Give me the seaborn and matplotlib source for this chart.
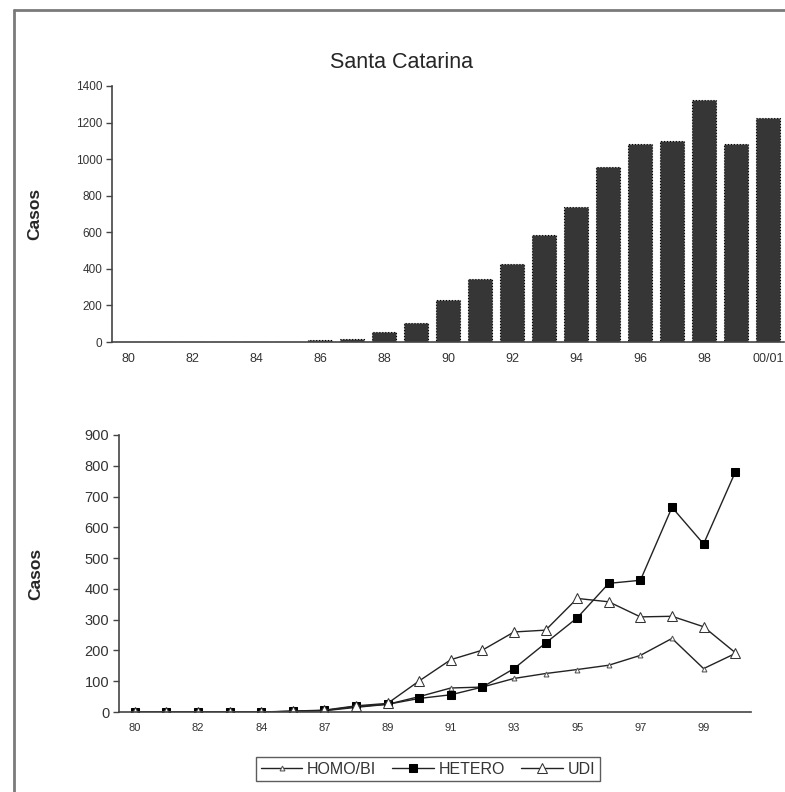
import matplotlib
matplotlib.use("Agg")
import matplotlib.pyplot as plt
from matplotlib.lines import Line2D
import seaborn as sns

# Annual AIDS cases, Santa Catarina
bar_years = ["80", "81", "82", "83", "84", "85", "86", "87", "88", "89", "90",
             "91", "92", "93", "94", "95", "96", "97", "98", "99", "00/01"]
bar_cases = [0, 0, 0, 0, 0, 0, 10, 18, 55, 106, 229,
             342, 429, 583, 736, 959, 1083, 1099, 1326, 1083, 1223]

# Cases by exposure category
line_years = ["80", "81", "82", "83", "84", "85", "87", "88", "89", "90",
              "91", "92", "93", "94", "95", "96", "97", "98", "99", "00"]
homo_bi = [0, 0, 0, 0, 0, 2, 4, 15, 25, 50,
           78, 81, 109, 125, 138, 152, 184, 239, 141, 190]
hetero = [0, 0, 0, 0, 0, 2, 5, 18, 25, 44,
          56, 81, 141, 224, 306, 418, 428, 665, 546, 779]
udi = [0, 0, 0, 0, 0, 3, 6, 20, 28, 101,
       170, 201, 260, 266, 369, 358, 309, 311, 277, 193]

sns.set_theme(style="white")
plt.rcParams["font.family"] = ["Liberation Sans", "DejaVu Sans"]
narrow = ["Liberation Sans Narrow", "Liberation Sans", "DejaVu Sans"]

fig = plt.figure(figsize=(7.85, 7.92), dpi=100)

# outer frame (left and top edges)
fig.add_artist(Line2D([14 / 785, 14 / 785], [0, 1 - 10 / 792],
                      transform=fig.transFigure, color="#7a7a7a", lw=2))
fig.add_artist(Line2D([14 / 785, 1], [1 - 10 / 792, 1 - 10 / 792],
                      transform=fig.transFigure, color="#7a7a7a", lw=2))

fig.text(402 / 785, 1 - 62 / 792, "Santa Catarina", ha="center", va="center",
         fontsize=15.5, family=narrow, fontweight="medium")

# ---- top: total cases per year ----
ax1 = fig.add_axes([112 / 785, 1 - 342 / 792, 672 / 785, 256 / 792])
sns.barplot(x=bar_years, y=bar_cases, color="#363636", width=0.72,
            edgecolor="black", linewidth=0.8, linestyle=":", saturation=1,
            ax=ax1)
ax1.set_xlim(-0.5, len(bar_years) - 0.5)
ax1.set_ylim(0, 1400)
ax1.set_yticks(range(0, 1401, 200))
ax1.set_yticklabels([str(v) for v in range(0, 1401, 200)], family=narrow,
                    fontsize=8.5, color="#333333")
ax1.set_xticks(range(0, len(bar_years), 2))
ax1.set_xticklabels(bar_years[::2], family=narrow, fontsize=9, color="#333333")
ax1.set_xticks([i - 0.5 for i in range(len(bar_years) + 1)], minor=True)
ax1.tick_params(axis="x", which="major", length=0, pad=8)
ax1.tick_params(axis="x", which="minor", length=4, width=1, color="#444444",
                direction="out")
ax1.tick_params(axis="y", length=4, width=1, color="#444444", direction="out",
                left=True, pad=3)
for s in ("top", "right"):
    ax1.spines[s].set_visible(False)
for s in ("left", "bottom"):
    ax1.spines[s].set_color("#444444")
    ax1.spines[s].set_linewidth(1.2)
ax1.set_ylabel("Casos", fontsize=12.5, fontweight="bold", labelpad=24)
ax1.set_xlabel("")

# ---- bottom: cases by exposure category ----
ax2 = fig.add_axes([119 / 785, 1 - 712 / 792, 632 / 785, 277 / 792])
sns.pointplot(x=line_years, y=homo_bi, color="#222222", marker="^",
              markersize=3.5, markerfacecolor="white", markeredgecolor="#555555",
              linewidth=1.0, errorbar=None, label="HOMO/BI", ax=ax2)
sns.pointplot(x=line_years, y=hetero, color="#222222", marker="s",
              markersize=5.5, markerfacecolor="black", markeredgecolor="black",
              linewidth=1.0, errorbar=None, label="HETERO", ax=ax2)
sns.pointplot(x=line_years, y=udi, color="#222222", marker="^",
              markersize=7, markerfacecolor="white", markeredgecolor="#333333",
              linewidth=1.0, errorbar=None, label="UDI", ax=ax2)
ax2.set_xlim(-0.5, len(line_years) - 0.5)
ax2.set_ylim(0, 900)
ax2.set_yticks(range(0, 901, 100))
ax2.set_yticklabels([str(v) for v in range(0, 901, 100)], fontsize=10.5,
                    color="#333333")
ax2.set_xticks(range(0, len(line_years), 2))
ax2.set_xticklabels(line_years[::2], fontsize=8, color="#333333")
ax2.set_xticks([i - 0.5 for i in range(len(line_years) + 1)], minor=True)
ax2.tick_params(axis="x", which="major", length=0, pad=8)
ax2.tick_params(axis="x", which="minor", length=4, width=1, color="#444444",
                direction="out")
ax2.tick_params(axis="y", length=4, width=1, color="#444444", direction="out",
                left=True, pad=3)
for s in ("top", "right"):
    ax2.spines[s].set_visible(False)
for s in ("left", "bottom"):
    ax2.spines[s].set_color("#444444")
    ax2.spines[s].set_linewidth(1.2)
ax2.set_ylabel("Casos", fontsize=12.5, fontweight="bold", labelpad=30)
ax2.set_xlabel("")

leg = ax2.legend(loc="center", bbox_to_anchor=(428 / 785, 1 - 769 / 792),
                 bbox_transform=fig.transFigure, ncol=3, frameon=True,
                 fancybox=False, edgecolor="#333333", fontsize=11.5,
                 handlelength=2.6, handletextpad=0.3, columnspacing=1.0,
                 borderpad=0.3)
leg.get_frame().set_linewidth(1.0)
for t in leg.get_texts():
    t.set_color("#333333")

fig.savefig("out.png", dpi=100)
